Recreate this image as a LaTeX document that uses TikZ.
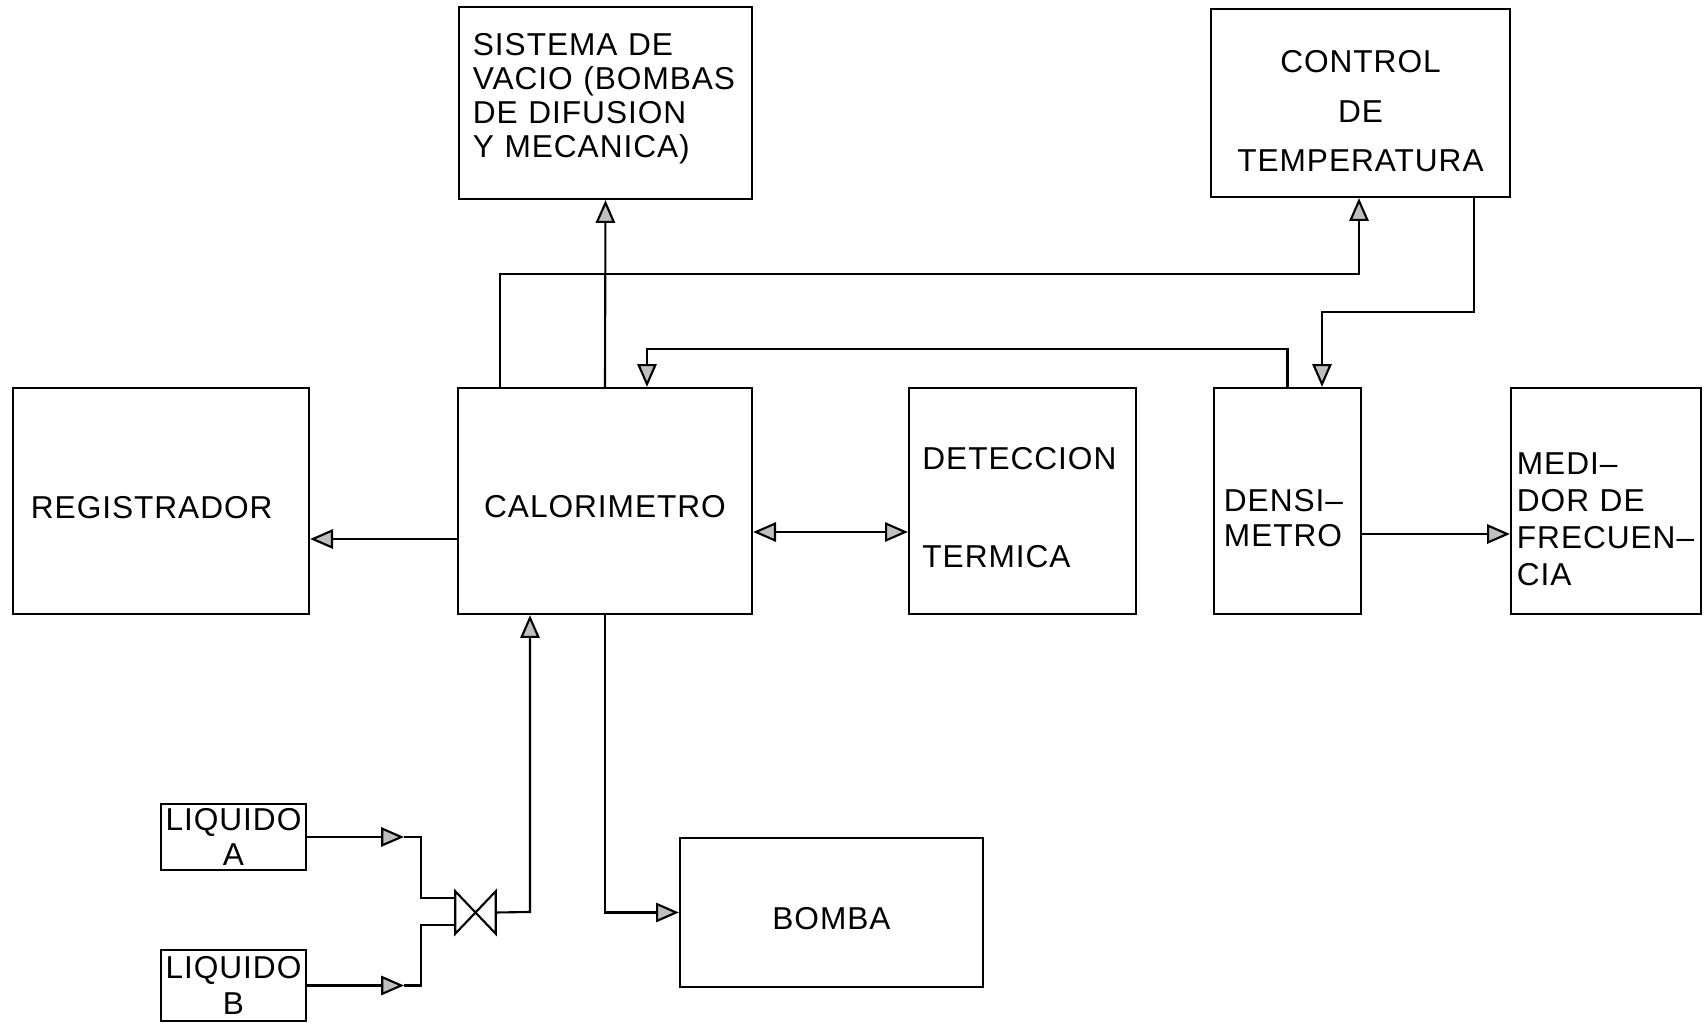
\documentclass[tikz,border=0pt]{standalone}
\usepackage{fontspec}
\setmainfont{Liberation Sans}[LetterSpace=3]
\usepackage{tikz}
\usetikzlibrary{arrows.meta}

% strut that pushes a box text down
\newcommand{\tall}[1]{\rule{0pt}{#1}}

\begin{document}
\begin{tikzpicture}[
    x=0.01cm, y=-0.01cm,
    box/.style={rectangle, draw, line width=0.6pt, inner sep=0pt, align=center, font=\fontsize{9}{10.2}\selectfont},
    pipe/.style={line width=0.6pt},
    arrow/.style={-{Triangle[length=6.5pt, width=5.5pt, fill=gray!50]}, line width=0.6pt},
    twoway/.style={{Triangle[length=6.5pt, width=5.5pt, fill=gray!50]}-{Triangle[length=6.5pt, width=5.5pt, fill=gray!50]}, line width=0.6pt}
]
\useasboundingbox (0,0) rectangle (1705,1025);

% Top row
\node[box, minimum width=2.93cm, minimum height=1.92cm, text width=2.65cm, align=left, font=\fontsize{9}{9.7}\selectfont] (vac) at (605.5,103) {SISTEMA DE\\VACIO (BOMBAS\\DE DIFUSION\\Y MECANICA)\rule[-4.4pt]{0pt}{4.4pt}};
\node[box, minimum width=2.99cm, minimum height=1.88cm] (ctl) at (1360.5,103) {\tall{11pt}CONTROL\\[3.8pt]DE\\[3.8pt]TEMPERATURA};

% Middle row
\node[box, minimum width=2.96cm, minimum height=2.26cm, text width=2.6cm, align=left] (reg) at (161,501) {\tall{10.2pt}REGISTRADOR};
\node[box, minimum width=2.94cm, minimum height=2.26cm] (cal) at (605,501) {\tall{9.5pt}CALORIMETRO};
\node[box, minimum width=2.27cm, minimum height=2.26cm, text width=2.0cm, align=left] (det) at (1022.5,501) {\tall{10.2pt}DETECCION\\[17.7pt]TERMICA};
\node[box, minimum width=1.47cm, minimum height=2.26cm, text width=1.27cm, align=left] (den) at (1287.5,501) {\tall{16pt}DENSI--\\METRO};
\node[box, minimum width=1.90cm, minimum height=2.26cm, text width=1.78cm, align=left, font=\fontsize{9}{10.5}\selectfont] (med) at (1606,501) {\tall{16.5pt}MEDI--\\DOR DE\\FRECUEN--\\CIA};

% Bottom row
\node[box, minimum width=1.45cm, minimum height=0.66cm] (liqA) at (233.5,837) {LIQUIDO\\A};
\node[box, minimum width=1.45cm, minimum height=0.71cm] (liqB) at (233.5,985.5) {LIQUIDO\\B};
\node[box, minimum width=3.03cm, minimum height=1.49cm] (bom) at (831.5,912.5) {\tall{9.5pt}BOMBA};

% Valve
\node[minimum width=0.39cm, minimum height=0.41cm, inner sep=0pt] (valve) at (475.5,912.5) {};
\draw[pipe] (valve.north west) -- (valve.south west) -- (valve.north east) -- (valve.south east) -- cycle;

% Bend points
\coordinate (b1) at (500,274);
\coordinate (b2) at (1359,274);
\coordinate (b3) at (1474,312);
\coordinate (b4) at (1322,312);
\coordinate (b5) at (647,349);
\coordinate (b6) at (530,912);
\coordinate (aA) at (404,837);
\coordinate (jA) at (421,837);
\coordinate (aB) at (404,985.5);
\coordinate (jB) at (421,985.5);

% Connections
\draw[arrow] (cal.north) -- (vac.south);
\draw[arrow] (cal.north -| b1) -- (b1) -- (b2) -- (b2 |- ctl.south);
\draw[arrow] (b3 |- ctl.south) -- (b3) -- (b4) -- (b4 |- den.north);
\draw[arrow] (den.north) |- (b5) -- (b5 |- cal.north);
\draw[arrow] ([yshift=-0.38cm]cal.west) -- ([yshift=-0.38cm]reg.east);
\draw[twoway] ([yshift=-0.31cm]cal.east) -- ([yshift=-0.31cm]det.west);
\draw[arrow] ([yshift=-0.33cm]den.east) -- ([yshift=-0.33cm]med.west);
\draw[arrow] (cal.south) |- (bom.west);
\draw[arrow] (valve.east) -- (b6) -- (b6 |- cal.south);

% Liquids into valve
\draw[arrow] (liqA.east) -- (aA);
\draw[pipe] (aA) -- (jA) |- ([yshift=0.145cm]valve.west);
\draw[arrow] (liqB.east) -- (aB);
\draw[pipe] (aB) -- (jB) |- ([yshift=-0.125cm]valve.west);
\end{tikzpicture}
\end{document}
